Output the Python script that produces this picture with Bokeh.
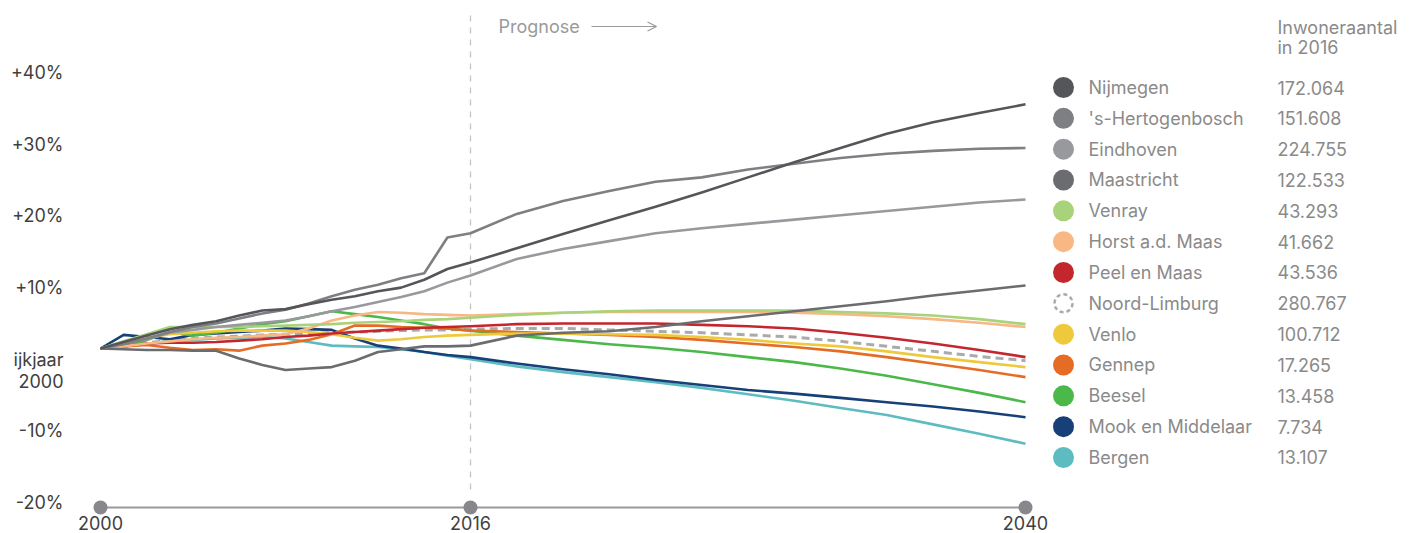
from bokeh.plotting import figure
from bokeh.models import Range1d, Arrow, OpenHead
from bokeh.core.properties import value
from bokeh.embed import file_html
from bokeh.resources import INLINE

# ---------------- data ----------------
YEARS = list(range(2000, 2017)) + [2018, 2020, 2022, 2024, 2026, 2028, 2030, 2032, 2034, 2036, 2038, 2040]

NAMES = ["Nijmegen", "'s-Hertogenbosch", "Eindhoven", "Maastricht", "Venray", "Horst a.d. Maas",
         "Peel en Maas", "Noord-Limburg", "Venlo", "Gennep", "Beesel", "Mook en Middelaar", "Bergen"]
POP_2016 = ["172.064", "151.608", "224.755", "122.533", "43.293", "41.662",
            "43.536", "280.767", "100.712", "17.265", "13.458", "7.734", "13.107"]
COLORS = ["#55565a", "#7e7f83", "#98999d", "#6b6c70", "#a9d37a", "#f8b783",
          "#c4262e", "#aaaaaa", "#efc93c", "#e46c25", "#4bb84a", "#173f78", "#5dbcc0"]

nijmegen = [0, 0.9, 1.8, 2.7, 3.3, 3.8, 4.6, 5.3, 5.5, 6.2, 6.8, 7.3, 8.0, 8.5, 9.6, 11.1, 12.0,
            14.0, 16.0, 17.9, 19.8, 21.8, 23.9, 26.0, 28.0, 30.0, 31.6, 32.9, 34.1]
hertogenbosch = [0, 0.6, 1.4, 2.3, 3.0, 3.5, 4.2, 4.9, 5.4, 6.3, 7.3, 8.2, 8.9, 9.8, 10.5, 15.5, 16.1,
                 18.8, 20.6, 22.0, 23.3, 23.9, 25.0, 25.8, 26.6, 27.2, 27.6, 27.9, 28.0]
eindhoven = [0, 0.7, 1.3, 2.2, 2.6, 3.0, 3.3, 3.6, 3.9, 4.5, 5.2, 5.8, 6.5, 7.2, 8.0, 9.2, 10.2,
             12.5, 13.9, 15.0, 16.1, 16.8, 17.4, 18.0, 18.6, 19.2, 19.8, 20.4, 20.8]
maastricht = [0, -0.1, -0.2, -0.2, -0.3, -0.3, -1.4, -2.3, -3.0, -2.8, -2.6, -1.7, -0.5, -0.1, 0.3, 0.3, 0.4,
              1.8, 2.2, 2.4, 3.0, 3.8, 4.5, 5.2, 5.9, 6.6, 7.4, 8.1, 8.8]
venray = [0, 1.0, 2.0, 3.0, 3.0, 3.0, 3.0, 3.1, 3.2, 3.3, 3.4, 3.6, 3.7, 3.8, 4.0, 4.1, 4.3,
          4.7, 5.0, 5.2, 5.3, 5.3, 5.3, 5.3, 5.1, 4.9, 4.6, 4.1, 3.4]
horst = [0, 0.3, 0.7, 1.0, 1.3, 1.5, 1.6, 1.8, 2.0, 2.8, 3.9, 4.6, 5.1, 5.0, 4.8, 4.7, 4.6,
         4.8, 5.0, 5.1, 5.1, 5.1, 5.1, 5.0, 4.8, 4.5, 4.1, 3.6, 3.0]
peel_en_maas = [0, 0.3, 0.7, 0.8, 0.8, 0.9, 1.1, 1.3, 1.6, 1.8, 2.1, 2.3, 2.5, 2.7, 2.9, 3.0, 3.1,
                3.4, 3.5, 3.5, 3.5, 3.3, 3.1, 2.8, 2.2, 1.5, 0.7, -0.2, -1.2]
noord_limburg = [0, 0.4, 0.8, 1.1, 1.4, 1.6, 1.7, 1.9, 2.0, 2.1, 2.2, 2.3, 2.4, 2.5, 2.6, 2.6, 2.7,
                 2.8, 2.8, 2.6, 2.4, 2.2, 1.9, 1.6, 1.0, 0.3, -0.4, -1.1, -1.7]
venlo = [0, 0.8, 1.5, 2.0, 2.2, 2.4, 2.5, 2.5, 2.5, 2.3, 2.0, 1.5, 1.1, 1.3, 1.6, 1.8, 1.9,
         2.1, 2.1, 2.0, 1.9, 1.6, 1.2, 0.7, 0.3, -0.4, -1.2, -1.9, -2.6]
gennep = [0, 0.3, 0.5, 0.1, -0.2, -0.1, -0.3, 0.4, 0.7, 1.2, 2.0, 3.2, 3.2, 3.0, 2.9, 2.8, 2.5,
          2.3, 2.1, 1.9, 1.6, 1.2, 0.7, 0.2, -0.4, -1.2, -2.1, -3.0, -4.0]
beesel = [0, 0.2, 1.2, 2.3, 1.8, 2.2, 2.8, 3.4, 3.8, 4.5, 5.2, 4.8, 4.4, 3.9, 3.4, 2.8, 2.5,
          1.8, 1.2, 0.6, 0.1, -0.5, -1.2, -1.9, -2.8, -3.8, -5.0, -6.2, -7.5]
mook = [0, 1.9, 1.6, 1.3, 1.9, 2.1, 2.3, 2.5, 2.8, 2.7, 2.6, 1.4, 0.4, 0.0, -0.5, -0.9, -1.2,
        -2.1, -2.9, -3.6, -4.4, -5.1, -5.8, -6.3, -6.9, -7.5, -8.1, -8.8, -9.6]
bergen = [0, 0.3, 0.6, 1.1, 1.2, 1.4, 1.5, 1.6, 1.4, 0.9, 0.4, 0.3, 0.2, -0.1, -0.5, -1.0, -1.5,
          -2.5, -3.3, -4.0, -4.7, -5.5, -6.4, -7.3, -8.3, -9.3, -10.6, -11.9, -13.3]

SERIES = [nijmegen, hertogenbosch, eindhoven, maastricht, venray, horst, peel_en_maas,
          noord_limburg, venlo, gennep, beesel, mook, bergen]
DASHED = "Noord-Limburg"

Y_TICKS = [40, 30, 20, 10, -10, -20]
Y_LABELS = ["+40%", "+30%", "+20%", "+10%", "-10%", "-20%"]
BASE_LABEL = ["ijkjaar", "2000"]
X_TICKS = [2000, 2016, 2040]
X_LABELS = ["2000", "2016", "2040"]
FORECAST_START = 2016

# ---------------- layout (pixels) ----------------
W, H = 1414, 533
X0_PX, PX_PER_YEAR = 100.0, 23.125    # canvas px of year 2000, px per year
Y0_PX, PX_PER_PCT = 348.0, 7.16       # canvas px (from top) of 0 %, px per percent


def yr(px):
    return 2000 + (px - X0_PX) / PX_PER_YEAR


def pc(py):
    return (Y0_PX - py) / PX_PER_PCT


FONT = value("Inter")
FS = "18px"
DARK = "#404040"
GREY = "#8a8a8a"

p = figure(width=W, height=H, output_backend="svg", toolbar_location=None,
           x_range=Range1d(yr(0), yr(W)), y_range=Range1d(pc(H), pc(0)),
           x_axis_location=None, y_axis_location=None, min_border=0,
           outline_line_color=None, background_fill_color="white", border_fill_color="white")
p.grid.visible = False

# forecast divider
p.segment(x0=[FORECAST_START], y0=[pc(15)], x1=[FORECAST_START], y1=[pc(490)],
          line_color="#c4c4c4", line_width=1.3, line_dash="6 6")
p.text(x=[yr(498)], y=[pc(26)], text=["Prognose"], text_font=FONT, text_font_size=FS,
       text_color="#9a9a9a", text_align="left", text_baseline="middle")
p.add_layout(Arrow(end=OpenHead(size=9, line_color="#9a9a9a", line_width=1.2),
                   x_start=yr(591), y_start=pc(26), x_end=yr(656), y_end=pc(26),
                   line_color="#9a9a9a", line_width=1.2))

# lines
order = list(range(len(NAMES)))
dash_i = NAMES.index(DASHED)
order.remove(dash_i)
order = [dash_i] + order[::-1]
for i in order:
    if NAMES[i] == DASHED:
        p.line(YEARS, SERIES[i], line_color=COLORS[i], line_width=3, line_dash="8 5")
    else:
        p.line(YEARS, SERIES[i], line_color=COLORS[i], line_width=2.6, line_join="round")

# y labels
p.text(x=[yr(63)] * len(Y_TICKS), y=Y_TICKS, text=Y_LABELS, text_font=FONT, text_font_size=FS,
       text_color=DARK, text_align="right", text_baseline="middle", y_offset=10.5)
p.text(x=[yr(63)] * 2, y=[0, 0], text=BASE_LABEL, text_font=FONT, text_font_size=FS,
       text_color=DARK, text_align="right", text_baseline="middle", y_offset=[11, 32])

# bottom time axis
axis_y = pc(507)
p.line([X_TICKS[0], X_TICKS[-1]], [axis_y, axis_y], line_color="#9a9a9e", line_width=2)
p.scatter(X_TICKS, [axis_y] * len(X_TICKS), size=14, fill_color="#88888c", line_color=None)
p.text(x=X_TICKS, y=[axis_y] * len(X_TICKS), text=X_LABELS, text_font=FONT, text_font_size=FS,
       text_color=DARK, text_align="center", text_baseline="middle", y_offset=15)

# legend
row_y = [87 + k * 30.83 for k in range(len(NAMES))]
for k, name in enumerate(NAMES):
    if name == DASHED:
        p.scatter([yr(1063)], [pc(row_y[k])], size=18, fill_color=None, line_color=COLORS[k],
                  line_width=2.5, line_dash="4 3")
    else:
        p.scatter([yr(1063)], [pc(row_y[k])], size=21, fill_color=COLORS[k], line_color=None)
p.text(x=[yr(1088)] * len(NAMES), y=[pc(v) for v in row_y], text=NAMES, text_font=FONT,
       text_font_size=FS, text_color=GREY, text_align="left", text_baseline="middle")
p.text(x=[yr(1277)] * len(NAMES), y=[pc(v) for v in row_y], text=POP_2016, text_font=FONT,
       text_font_size=FS, text_color=GREY, text_align="left", text_baseline="middle")
p.text(x=[yr(1277)] * 2, y=[pc(27), pc(47)], text=["Inwoneraantal", "in 2016"], text_font=FONT,
       text_font_size=FS, text_color=GREY, text_align="left", text_baseline="middle")

open("out.html", "w").write(file_html(p, INLINE))
